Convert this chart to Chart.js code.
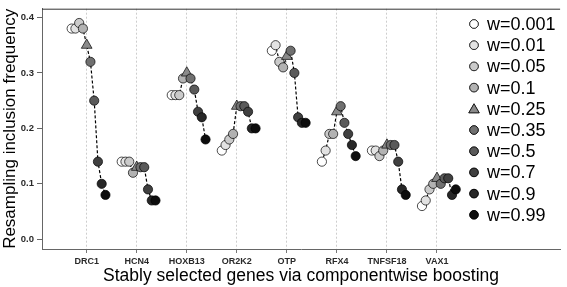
<!DOCTYPE html>
<html>
<head>
<meta charset="utf-8">
<script src="https://cdn.jsdelivr.net/npm/chart.js@4.4.1/dist/chart.umd.min.js"></script>
<style>
  html, body { margin: 0; padding: 0; background: #ffffff; }
  canvas { display: block; }
</style>
</head>
<body>
<canvas id="c" width="567" height="287"></canvas>
<script>
// ---- data ----
const genes = ["DRC1", "HCN4", "HOXB13", "OR2K2", "OTP", "RFX4", "TNFSF18", "VAX1"];
const wLabels = ["w=0.001", "w=0.01", "w=0.05", "w=0.1", "w=0.25", "w=0.35", "w=0.5", "w=0.7", "w=0.9", "w=0.99"];
// inclusion frequency per gene, one value per w (same order as wLabels)
const DRC1    = [0.38, 0.38, 0.39, 0.38, 0.35, 0.32, 0.25, 0.14, 0.10, 0.08];
const HCN4    = [0.14, 0.14, 0.14, 0.12, 0.13, 0.13, 0.13, 0.09, 0.07, 0.07];
const HOXB13  = [0.26, 0.26, 0.26, 0.29, 0.30, 0.29, 0.27, 0.23, 0.22, 0.18];
const OR2K2   = [0.16, 0.17, 0.18, 0.19, 0.24, 0.24, 0.24, 0.23, 0.20, 0.20];
const OTP     = [0.34, 0.35, 0.32, 0.31, 0.33, 0.34, 0.30, 0.22, 0.21, 0.21];
const RFX4    = [0.14, 0.16, 0.19, 0.19, 0.23, 0.24, 0.21, 0.19, 0.17, 0.15];
const TNFSF18 = [0.16, 0.16, 0.15, 0.16, 0.17, 0.17, 0.17, 0.14, 0.09, 0.08];
const VAX1    = [0.06, 0.07, 0.09, 0.10, 0.11, 0.10, 0.11, 0.11, 0.08, 0.09];
const yTicks  = [0.0, 0.1, 0.2, 0.3, 0.4];

// ---- styling ----
const geneValues = [DRC1, HCN4, HOXB13, OR2K2, OTP, RFX4, TNFSF18, VAX1];
const fills = ['#ffffff', '#e2e2e2', '#cacaca', '#b2b2b2', '#8a8a8a', '#707070', '#5a5a5a', '#404040', '#272727', '#0d0d0d'];
const dodge = 0.075;
const FONT = '"Liberation Sans", Arial, Helvetica, sans-serif';

const datasets = [];
geneValues.forEach((vals, g) => {
  datasets.push({
    type: 'line',
    label: genes[g],
    data: vals.map((v, i) => ({ x: g + 1 + (i - 4) * dodge, y: v })),
    borderColor: '#000000',
    borderWidth: 1.2,
    borderDash: [3, 2],
    pointRadius: 0,
    fill: false,
    order: 100,
    isLine: true
  });
});
wLabels.forEach((lab, i) => {
  const tri = lab === 'w=0.25';
  datasets.push({
    type: 'scatter',
    label: lab,
    data: geneValues.map((vals, g) => ({ x: g + 1 + (i - 4) * dodge, y: vals[i] })),
    showLine: false,
    pointStyle: tri ? 'triangle' : 'circle',
    pointRadius: tri ? 6.2 : 4.6,
    backgroundColor: fills[i],
    borderColor: '#000000',
    borderWidth: 0.7,
    order: 10 - i
  });
});

const framePlugin = {
  id: 'frame',
  afterDraw(chart) {
    const ctx = chart.ctx, a = chart.chartArea;
    ctx.save();
    ctx.strokeStyle = '#333333';
    ctx.lineWidth = 1;
    ctx.beginPath();
    ctx.moveTo(a.left, a.top + 0.5);
    ctx.lineTo(a.right, a.top + 0.5);
    ctx.stroke();
    // legend
    const pts = chart.data.datasets.filter(d => !d.isLine);
    ctx.font = '18px ' + FONT;
    ctx.textBaseline = 'middle';
    ctx.textAlign = 'left';
    pts.forEach((d, i) => {
      const y = 24 + 21.2 * i;
      const tri = d.pointStyle === 'triangle';
      ctx.fillStyle = d.backgroundColor;
      ctx.strokeStyle = '#000000';
      ctx.lineWidth = 0.7;
      Chart.helpers.drawPoint(ctx, { pointStyle: d.pointStyle, radius: tri ? 6 : 4.3, rotation: 0, borderWidth: 0.7 }, 474, y + (tri ? 1 : 0));
      ctx.fill();
      ctx.stroke();
      ctx.fillStyle = '#000000';
      ctx.fillText(d.label, 487, y + 1);
    });
    ctx.restore();
  }
};

new Chart(document.getElementById('c'), {
  type: 'scatter',
  data: { datasets },
  plugins: [framePlugin],
  options: {
    responsive: false,
    devicePixelRatio: 1,
    animation: false,
    layout: { padding: { top: 2, right: 0, bottom: 0, left: 0 } },
    plugins: { legend: { display: false }, tooltip: { enabled: false } },
    scales: {
      x: {
        type: 'linear',
        min: 0.107,
        max: 10.46,
        afterBuildTicks: (s) => { s.ticks = genes.map((g, i) => ({ value: i + 1 })); },
        afterFit: (s) => { s.height = 38; },
        ticks: {
          callback: (v) => genes[Math.round(v) - 1] || '',
          font: { family: FONT, size: 9, weight: 'bold' },
          color: '#2a2a2a',
          padding: 3,
          maxRotation: 0,
          autoSkip: false
        },
        grid: {
          color: '#cdcdcd',
          lineWidth: 1,
          drawTicks: true,
          tickLength: 4,
          tickColor: '#777777',
          tickBorderDash: [],
          tickWidth: 1
        },
        border: { display: true, color: '#666666', width: 1, dash: [2, 2] },
        title: {
          display: true,
          text: 'Stably selected genes via componentwise boosting',
          font: { family: FONT, size: 17.5 },
          color: '#000000',
          padding: { top: 0, bottom: 0 }
        }
      },
      y: {
        type: 'linear',
        min: -0.0175,
        max: 0.4158,
        afterBuildTicks: (s) => { s.ticks = yTicks.map(v => ({ value: v })); },
        afterFit: (s) => { s.width = 42; },
        ticks: {
          callback: (v) => Number(v).toFixed(1),
          font: { family: FONT, size: 9.5, weight: 'bold' },
          color: '#2a2a2a',
          padding: 3
        },
        grid: {
          drawOnChartArea: false,
          drawTicks: true,
          tickLength: 5,
          tickColor: '#666666',
          color: '#666666'
        },
        border: { display: true, color: '#666666', width: 1 },
        title: {
          display: true,
          text: 'Resampling inclusion frequency',
          font: { family: FONT, size: 17 },
          color: '#000000',
          padding: { top: 0, bottom: 0 }
        }
      }
    }
  }
});
</script>
</body>
</html>
